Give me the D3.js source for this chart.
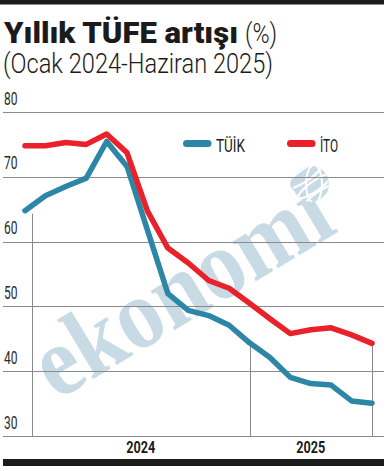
<!DOCTYPE html>
<html><head><meta charset="utf-8">
<script src="https://cdn.jsdelivr.net/npm/d3@7"></script>
<style>html,body{margin:0;padding:0;background:#fff;}svg{display:block;}</style>
</head><body>
<svg id="c" width="392" height="471"></svg>
<script>
const months = ["Oca 2024","Şub 2024","Mar 2024","Nis 2024","May 2024","Haz 2024","Tem 2024","Ağu 2024","Eyl 2024","Eki 2024","Kas 2024","Ara 2024","Oca 2025","Şub 2025","Mar 2025","Nis 2025","May 2025","Haz 2025"];
const tuik = [64.77,67.07,68.50,69.80,75.45,71.60,61.78,51.97,49.38,48.58,47.09,44.38,42.12,39.05,38.10,37.86,35.41,35.05];
const ito  = [74.8,74.8,75.3,75.0,76.6,73.7,64.7,59.0,56.7,54.0,52.8,50.5,48.1,45.8,46.4,46.7,45.6,44.3];
const yTicks = [30,40,50,60,70,80];
const yearLabels = ["2024","2025"];
const separatorIdx = [0.35, 11, 17];
const separatorTop = [64.3, 43.9, 44.3];
const seriesNames = ["TÜİK","İTO"];
const seriesColors = ["#2b87a5","#e8212a"];

const svg = d3.select("#c");
const x = d3.scaleLinear().domain([0, months.length-1]).range([25, 372]);
const y = d3.scaleLinear().domain([30, 80]).range([436, 112]);
const gridL = 3, gridR = 384;

svg.append("rect").attr("x",0).attr("y",0).attr("width",384).attr("height",4.5).attr("fill","#1b1b1b");
svg.append("rect").attr("x",3).attr("y",459).attr("width",381).attr("height",7).attr("fill","#1b1b1b");

const font = "Roboto, 'DejaVu Sans', sans-serif";
svg.append("text").attr("x",4).attr("y",42.5).attr("font-family",font).attr("font-weight",900)
  .attr("font-size",30).attr("fill","#1b1b1b").attr("textLength",234).attr("lengthAdjust","spacingAndGlyphs")
  .text("Yıllık TÜFE artışı");
svg.append("text").attr("x",245).attr("y",42.5).attr("font-family",font).attr("font-weight",300)
  .attr("font-size",28).attr("fill","#1b1b1b").attr("textLength",32).attr("lengthAdjust","spacingAndGlyphs")
  .text("(%)");
svg.append("text").attr("x",3).attr("y",72.5).attr("font-family",font).attr("font-weight",300)
  .attr("font-size",27).attr("fill","#1b1b1b").attr("textLength",270).attr("lengthAdjust","spacingAndGlyphs")
  .text("(Ocak 2024-Haziran 2025)");

// watermark
const wm = svg.append("g").attr("class","watermark");
wm.append("text").attr("transform","translate(198,316) rotate(-31)")
  .attr("text-anchor","middle").attr("font-family","'Liberation Serif','DejaVu Serif',serif")
  .attr("font-weight",700).attr("font-size",100).attr("fill","#c8dbe5")
  .attr("textLength",330).attr("lengthAdjust","spacingAndGlyphs").text("ekonomi");
const gc = wm.append("g").attr("transform","translate(311,184)");
gc.append("clipPath").attr("id","gclip").append("circle").attr("r",18);
gc.append("circle").attr("r",18).attr("fill","#c8dbe5");
const gg = gc.append("g").attr("clip-path","url(#gclip)");
[[-6,-9,22,6],[4,2,20,5],[8,12,18,4]].forEach(([cx,cy,rx,ry])=>{
  gg.append("ellipse").attr("cx",cx).attr("cy",cy).attr("rx",rx).attr("ry",ry)
    .attr("transform",`rotate(-35 ${cx} ${cy})`).attr("fill","none").attr("stroke","#fff").attr("stroke-width",2.2);
});
gg.append("ellipse").attr("cx",3).attr("cy",0).attr("rx",8).attr("ry",19).attr("fill","none").attr("stroke","#fff").attr("stroke-width",2);

svg.append("g").selectAll("line").data(yTicks).join("line")
  .attr("x1",gridL).attr("x2",gridR).attr("y1",d=>Math.round(y(d))+0.5).attr("y2",d=>Math.round(y(d))+0.5)
  .attr("stroke","#8a8a8a").attr("stroke-width",1);
svg.append("g").selectAll("text").data(yTicks).join("text")
  .attr("x",4).attr("y",d=>y(d)-7.5).attr("font-family",font).attr("font-size",18).attr("fill","#2a2a2a")
  .attr("textLength",13.5).attr("lengthAdjust","spacingAndGlyphs").text(d=>d);

svg.append("g").selectAll("line").data(separatorIdx).join("line")
  .attr("x1",d=>Math.round(x(d))+0.5).attr("x2",d=>Math.round(x(d))+0.5)
  .attr("y1",(d,i)=>y(separatorTop[i])).attr("y2",y(30))
  .attr("stroke","#8a8a8a").attr("stroke-width",1);

svg.append("g").selectAll("text").data(yearLabels).join("text")
  .attr("x",(d,i)=>(x(separatorIdx[i])+x(separatorIdx[i+1]))/2 - 14.5).attr("y",452.5)
  .attr("font-family",font).attr("font-weight",700).attr("font-size",16).attr("fill","#1b1b1b")
  .attr("textLength",29).attr("lengthAdjust","spacingAndGlyphs").text(d=>d);

const line = d3.line().x((d,i)=>x(i)).y(d=>y(d));
[tuik, ito].forEach((s,k)=>{
  svg.append("path").datum(s).attr("d",line).attr("fill","none").attr("stroke",seriesColors[k])
    .attr("stroke-width",5.5).attr("stroke-linejoin","round").attr("stroke-linecap","round");
});

const legX = [183, 287], legTextW = [29, 18];
seriesNames.forEach((n,k)=>{
  svg.append("line").attr("x1",legX[k]+3.5).attr("x2",legX[k]+25).attr("y1",143.5).attr("y2",143.5)
    .attr("stroke",seriesColors[k]).attr("stroke-width",7).attr("stroke-linecap","round");
  svg.append("text").attr("x",legX[k]+33).attr("y",151.5).attr("font-family",font).attr("font-size",17.5)
    .attr("fill","#1b1b1b").attr("textLength",legTextW[k]).attr("lengthAdjust","spacingAndGlyphs").text(n);
});
</script>
</body></html>
